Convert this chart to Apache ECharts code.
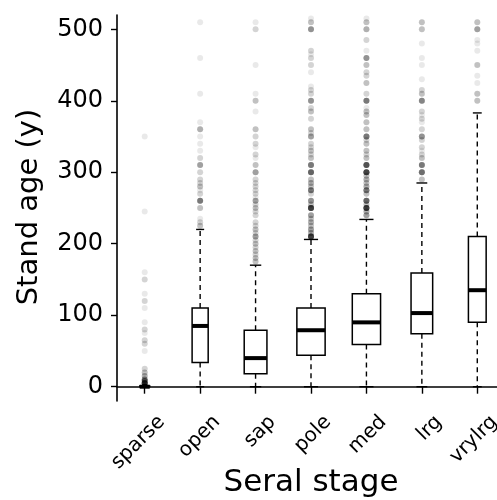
<!DOCTYPE html>
<html>
<head>
<meta charset="utf-8">
<script src="https://cdn.jsdelivr.net/npm/echarts@6/dist/echarts.min.js"></script>
<style>html,body{margin:0;padding:0;background:#fff;}#c{width:497px;height:500px;}</style>
</head>
<body>
<div id="c"></div>
<script>
const categories = ['sparse', 'open', 'sap', 'pole', 'med', 'lrg', 'vrylrg'];
const whiskerLow = [0, 0, 0, 0, 0, 0, 0];
const q1 = [0, 34, 18, 44, 59, 74, 90];
const median = [0, 85, 40, 79, 90, 103, 135];
const q3 = [1, 110, 79, 110, 130, 159, 210];
const whiskerHigh = [3, 220, 170, 206, 234, 285, 383];
const yTicks = [0, 100, 200, 300, 400, 500];
const xTitle = 'Seral stage';
const yTitle = 'Stand age (y)';

// outliers: [value, number of overlapping points]
const outSparse = [[350,1],[245,1],[160,1],[150,2],[130,1],[120,2],[110,1],[90,1],[80,2],[75,1],[65,2],[60,2],[50,1],[25,2],[20,3],[15,4],[10,6],[8,8],[5,15]];
const outOpen = [[510,1],[460,1],[410,1],[370,1],[360,4],[350,1],[340,1],[330,1],[320,2],[310,5],[300,2],[290,2],[285,2],[280,3],[275,1],[270,2],[260,8],[250,3],[235,1],[230,2],[225,3]];
const outSap = [[510,1],[500,2],[450,1],[410,1],[400,3],[385,1],[360,3],[350,2],[340,2],[335,1],[325,2],[320,1],[310,3],[300,5],[290,2],[285,2],[280,2],[275,2],[270,2],[265,1],[260,5],[255,2],[250,3],[245,2],[240,2],[230,2],[225,2],[220,3],[215,2],[210,5],[205,2],[200,3],[195,2],[190,3],[185,2],[180,3],[175,3]];
const outPole = [[515,1],[510,3],[500,6],[470,2],[465,1],[460,2],[450,2],[440,1],[420,1],[415,2],[410,2],[400,6],[390,2],[385,3],[375,2],[360,3],[355,2],[350,5],[340,2],[335,2],[330,3],[325,2],[320,3],[310,8],[300,10],[290,3],[285,4],[280,3],[275,8],[270,2],[260,6],[255,3],[250,15],[240,5],[235,3],[230,4],[225,3],[220,5],[215,4],[210,15]];
const outMed = [[515,1],[510,3],[500,4],[485,2],[470,1],[460,6],[450,3],[440,2],[435,2],[425,3],[410,2],[400,8],[390,1],[385,3],[380,3],[370,3],[360,3],[350,8],[345,2],[340,3],[330,3],[325,2],[320,3],[310,12],[300,14],[295,3],[290,4],[285,3],[280,4],[275,8],[270,3],[260,10],[255,3],[250,15],[245,4],[240,5]];
const outLrg = [[510,3],[500,3],[480,1],[460,1],[450,1],[430,1],[415,2],[410,3],[400,7],[385,2],[380,1],[375,2],[370,1],[360,2],[350,6],[345,2],[335,2],[330,1],[325,2],[320,3],[310,8],[300,9],[290,3]];
const outVrylrg = [[510,3],[500,5],[485,1],[480,1],[470,1],[450,3],[435,1],[425,1],[410,3],[400,3]];

const outliers = [outSparse, outOpen, outSap, outPole, outMed, outLrg, outVrylrg];

// layout: box width as a fraction of category band
const boxFrac = [0.18, 0.29, 0.41, 0.51, 0.51, 0.39, 0.32];

const boxData = categories.map((c, i) => [i, whiskerLow[i], q1[i], median[i], q3[i], whiskerHigh[i]]);
const pointData = [];
outliers.forEach((list, i) => {
  list.forEach(([v, n]) => { for (let k = 0; k < n; k++) pointData.push([i, v]); });
});

const FONT = 'DejaVu Sans';
const chart = echarts.init(document.getElementById('c'), null, { renderer: 'canvas' });
chart.setOption({
  animation: false,
  backgroundColor: '#fff',
  grid: { left: 117, right: -8, top: 15, bottom: 99, containLabel: false, outerBoundsMode: 'none' },
  graphic: [
    { type: 'text', x: 311, y: 483, style: { text: xTitle, font: '31px "DejaVu Sans"', fill: '#000', align: 'center', verticalAlign: 'middle' } },
    { type: 'text', x: 29, y: 207, rotation: Math.PI / 2, style: { text: yTitle, font: '29px "DejaVu Sans"', fill: '#000', align: 'center', verticalAlign: 'middle' } }
  ],
  xAxis: {
    type: 'category',
    data: categories,
    boundaryGap: true,
    axisLine: { show: true, lineStyle: { color: '#000', width: 1.6 } },
    axisTick: { show: true, alignWithLabel: true, length: 7, lineStyle: { color: '#000', width: 1.4 } },
    axisLabel: { interval: 0, showMinLabel: true, showMaxLabel: true, hideOverlap: false, rotate: 45, margin: 1, align: 'right', verticalAlign: 'top', lineHeight: 48, fontFamily: FONT, fontSize: 20, color: '#000' },
    splitLine: { show: false }
  },
  yAxis: {
    type: 'value',
    min: -20,
    max: 520,
    axisLine: { show: true, lineStyle: { color: '#000', width: 1.6 } },
    axisTick: { show: true, length: 6, customValues: yTicks, lineStyle: { color: '#000', width: 1.4 } },
    axisLabel: { margin: 14, fontFamily: FONT, fontSize: 24, color: '#000', customValues: yTicks },
    splitLine: { show: false }
  },
  series: [
    {
      type: 'scatter',
      data: pointData,
      symbol: 'circle',
      symbolSize: 6,
      itemStyle: { color: 'rgba(0,0,0,0.11)' },
      silent: true,
      z: 1
    },
    {
      type: 'custom',
      data: boxData,
      z: 2,
      renderItem: function (params, api) {
        const idx = api.value(0);
        const x = api.coord([idx, 0])[0];
        const band = api.size([1, 0])[0];
        const w = band * boxFrac[idx];
        const yMin = api.coord([idx, api.value(1)])[1];
        const yQ1 = api.coord([idx, api.value(2)])[1];
        const yMed = api.coord([idx, api.value(3)])[1];
        const yQ3 = api.coord([idx, api.value(4)])[1];
        const yMax = api.coord([idx, api.value(5)])[1];
        const dash = { stroke: '#000', lineWidth: 1.4, lineDash: [5, 4] };
        const solid = { stroke: '#000', lineWidth: 1.4 };
        return {
          type: 'group',
          children: [
            { type: 'line', shape: { x1: x, y1: yQ3, x2: x, y2: yMax }, style: dash },
            { type: 'line', shape: { x1: x, y1: yQ1, x2: x, y2: yMin }, style: dash },
            { type: 'line', shape: { x1: x - w / 4, y1: yMax, x2: x + w / 4, y2: yMax }, style: solid },
            { type: 'line', shape: { x1: x - w / 4, y1: yMin, x2: x + w / 4, y2: yMin }, style: solid },
            { type: 'rect', shape: { x: x - w / 2, y: yQ3, width: w, height: yQ1 - yQ3 }, style: { fill: '#fff', stroke: '#000', lineWidth: 1.5 } },
            { type: 'line', shape: { x1: x - w / 2, y1: yMed, x2: x + w / 2, y2: yMed }, style: { stroke: '#000', lineWidth: 4 } }
          ]
        };
      }
    }
  ]
});
</script>
</body>
</html>
